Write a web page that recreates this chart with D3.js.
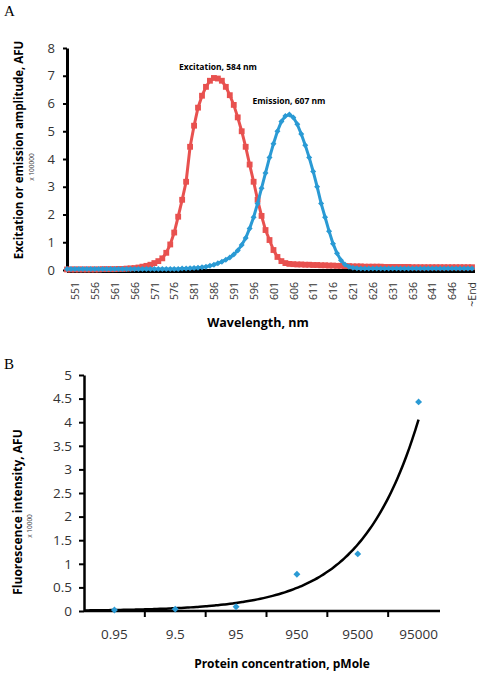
<!DOCTYPE html>
<html><head><meta charset="utf-8">
<script src="https://cdn.jsdelivr.net/npm/d3@7"></script>
<style>
body{margin:0;background:#fff}
text{font-family:"Open Sans",sans-serif}
</style>
</head><body>
<svg id="c" width="483" height="673"></svg>
<script>
// ---------- Panel A data ----------
const wavelengths = [
 "549","550","551","552","553","554","555","556","557","558","559","560","561","562","563","564","565",
 "566","567","568","569","570","571","572","573","574","575",
 "576","577","578","579","580","581","582","583","584","585",
 "586","587","588","589","590","591","592","593","594","595",
 "596","597","598","599","600","601","602","603","604","605",
 "606","607","608","609","610","611","612","613","614","615",
 "616","617","618","619","620","621","622","623","624","625",
 "626","627","628","629","630","631","632","633","634","635",
 "636","637","638","639","640","641","642","643","644","645",
 "646","647","648","649","650","~End"];
const excitation = [
 0.02,0.02,0.02,0.02,0.02,0.02,0.02,0.02,0.02,0.03,0.03,0.03,0.03,0.04,0.04,0.05,0.06,
 0.07,0.09,0.12,0.15,0.19,0.25,0.32,0.42,0.62,0.92,
 1.35,1.92,2.53,3.18,4.44,5.2,5.85,6.28,6.6,6.82,
 6.92,6.9,6.82,6.6,6.3,5.95,5.5,5.0,4.44,3.8,
 3.18,2.53,1.95,1.44,1.08,0.72,0.47,0.32,0.25,0.22,
 0.21,0.2,0.2,0.19,0.19,0.18,0.18,0.17,0.17,0.16,
 0.16,0.15,0.15,0.14,0.14,0.13,0.13,0.13,0.12,0.12,
 0.12,0.12,0.12,0.11,0.11,0.11,0.11,0.11,0.11,0.11,
 0.1,0.1,0.1,0.1,0.1,0.1,0.1,0.1,0.1,0.1,
 0.1,0.1,0.1,0.1,0.1,0.1];
const emission = [
 0.04,0.04,0.04,0.04,0.04,0.04,0.04,0.04,0.04,0.04,0.04,0.04,0.04,0.04,0.04,0.04,0.04,
 0.04,0.04,0.04,0.04,0.04,0.04,0.04,0.04,0.04,0.04,
 0.04,0.04,0.05,0.05,0.06,0.07,0.08,0.1,0.12,0.15,
 0.19,0.24,0.3,0.37,0.45,0.56,0.7,0.9,1.15,1.5,
 1.9,2.4,2.95,3.5,4.05,4.55,5.0,5.35,5.55,5.6,
 5.5,5.25,4.9,4.5,4.05,3.55,3.0,2.4,1.9,1.4,
 0.95,0.6,0.35,0.2,0.12,0.08,0.06,0.05,0.05,0.05,
 0.05,0.05,0.05,0.05,0.05,0.05,0.05,0.05,0.05,0.05,
 0.05,0.05,0.05,0.05,0.05,0.05,0.05,0.05,0.05,0.05,
 0.05,0.05,0.05,0.05,0.05,0.05];
const wavelengthTickLabels = ["551","556","561","566","571","576","581","586","591","596","601","606",
 "611","616","621","626","631","636","641","646","~End"];
const amplitudeTicks = [0,1,2,3,4,5,6,7,8];

// ---------- Panel B data ----------
const concentrations = ["0.95","9.5","95","950","9500","95000"];
const intensity = [0.02,0.04,0.09,0.78,1.21,4.43];
const intensityTicks = [0,0.5,1,1.5,2,2.5,3,3.5,4,4.5,5];
const trendA = 0.0071, trendB = 1.058;   // exponential trendline y = a*e^(b*x)

const RED = "#e8514f", BLUE = "#2a9ad4";
const svg = d3.select("#c");

// ================= Panel A =================
const A = {left:67, right:472, top:48, bottom:270};
const xA = d3.scalePoint().domain(wavelengths).range([A.left, A.right]);
const yA = d3.scaleLinear().domain([0,8]).range([A.bottom, A.top]);

svg.append("text").attr("x",4).attr("y",16).text("A")
  .style("font-family","'Liberation Serif',serif").style("font-size","15px");

// y axis
const gyA = svg.append("g").attr("transform",`translate(${A.left},0)`)
  .call(d3.axisLeft(yA).tickValues(amplitudeTicks).tickSize(4).tickSizeOuter(0).tickPadding(8));
gyA.select(".domain").attr("stroke","#000").attr("stroke-width",3);
gyA.selectAll(".tick line").attr("stroke","#000").attr("stroke-width",2);
gyA.selectAll(".tick text").style("font-size","13px").attr("fill","#333").style("font-family","'Open Sans',sans-serif");

// x axis (thick baseline)
svg.append("line").attr("x1",A.left).attr("x2",A.right+3).attr("y1",A.bottom+1).attr("y2",A.bottom+1)
  .attr("stroke","#000").attr("stroke-width",4);
const gxA = svg.append("g").attr("transform",`translate(0,${A.bottom})`)
  .call(d3.axisBottom(xA).tickValues(wavelengthTickLabels).tickSize(0).tickPadding(0));
gxA.select(".domain").remove();
gxA.selectAll(".tick text")
  .attr("transform","translate(0,12) rotate(-90)")
  .attr("text-anchor","end").attr("x",0).attr("y",0).attr("dy","0.35em")
  .style("font-size","10.5px").attr("fill","#333").style("font-family","'Open Sans',sans-serif");

// series
const dataEx = wavelengths.map((c,i)=>({c, v:excitation[i]}));
const dataEm = wavelengths.map((c,i)=>({c, v:emission[i]}));
const lineA = d3.line().x(d=>xA(d.c)).y(d=>yA(d.v));

svg.append("path").datum(dataEx).attr("d",lineA).attr("fill","none").attr("stroke",RED).attr("stroke-width",3);
svg.append("g").selectAll("path").data(dataEx).join("path")
  .attr("transform",d=>`translate(${xA(d.c)},${yA(d.v)})`)
  .attr("d",d3.symbol(d3.symbolSquare,34)()).attr("fill",RED);

svg.append("path").datum(dataEm).attr("d",lineA).attr("fill","none").attr("stroke",BLUE).attr("stroke-width",3);
svg.append("g").selectAll("path").data(dataEm).join("path")
  .attr("transform",d=>`translate(${xA(d.c)},${yA(d.v)}) rotate(45)`)
  .attr("d",d3.symbol(d3.symbolSquare,18)()).attr("fill",BLUE);

// annotations
svg.append("text").attr("x",218).attr("y",70).attr("text-anchor","middle")
  .style("font-size","8.5px").style("font-weight","bold").text("Excitation, 584 nm");
svg.append("text").attr("x",289).attr("y",104).attr("text-anchor","middle")
  .style("font-size","8.5px").style("font-weight","bold").text("Emission, 607 nm");

// titles
svg.append("text").attr("transform","translate(19,150) rotate(-90)").attr("text-anchor","middle").attr("dy","0.35em")
  .style("font-size","11.5px").style("font-weight","bold").text("Excitation or emission amplitude, AFU");
svg.append("text").attr("transform","translate(32,167) rotate(-90)").attr("text-anchor","middle").attr("dy","0.35em")
  .style("font-size","6.5px").attr("fill","#333").text("x 100000");
svg.append("text").attr("x",258).attr("y",327).attr("text-anchor","middle")
  .style("font-size","12.5px").style("font-weight","bold").text("Wavelength, nm");

// ================= Panel B =================
const B = {left:84, right:449, top:375, bottom:611};
const xB = d3.scaleBand().domain(concentrations).range([B.left, B.right]);
const xBt = d3.scaleLinear().domain([0.5, concentrations.length+0.5]).range([B.left, B.right]);
const yB = d3.scaleLinear().domain([0,5]).range([B.bottom, B.top]);

svg.append("text").attr("x",4).attr("y",369).text("B")
  .style("font-family","'Liberation Serif',serif").style("font-size","15px");

const gyB = svg.append("g").attr("transform",`translate(${B.left},0)`)
  .call(d3.axisLeft(yB).tickValues(intensityTicks).tickFormat(d3.format("")).tickSize(5).tickSizeOuter(0).tickPadding(7));
gyB.select(".domain").attr("stroke","#000").attr("stroke-width",2.5);
gyB.selectAll(".tick line").attr("stroke","#000").attr("stroke-width",2);
gyB.selectAll(".tick text").style("font-size","13.5px").attr("fill","#333").style("font-family","'Open Sans',sans-serif");

// x axis
svg.append("line").attr("x1",B.left).attr("x2",B.right-9).attr("y1",B.bottom).attr("y2",B.bottom)
  .attr("stroke","#000").attr("stroke-width",2.5);
svg.append("g").selectAll("line").data(concentrations.slice(1)).join("line")
  .attr("x1",d=>xB(d)).attr("x2",d=>xB(d)).attr("y1",B.bottom).attr("y2",B.bottom+6)
  .attr("stroke","#000").attr("stroke-width",2);
svg.append("g").selectAll("text").data(concentrations).join("text")
  .attr("x",d=>xB(d)+xB.bandwidth()/2).attr("y",B.bottom+28).attr("text-anchor","middle")
  .style("font-size","13.5px").attr("fill","#333").text(d=>d);

// trendline
const trendPts = d3.range(0.5, concentrations.length+0.001, 0.05).map(t=>[xBt(t), yB(trendA*Math.exp(trendB*t))]);
svg.append("path").datum(trendPts).attr("d",d3.line().curve(d3.curveBasis)).attr("fill","none")
  .attr("stroke","#000").attr("stroke-width",2.5);

// points
svg.append("g").selectAll("path").data(concentrations).join("path")
  .attr("transform",(d,i)=>`translate(${xB(d)+xB.bandwidth()/2},${yB(intensity[i])}) rotate(45)`)
  .attr("d",d3.symbol(d3.symbolSquare,24)()).attr("fill",BLUE);

// titles
svg.append("text").attr("transform","translate(18,512) rotate(-90)").attr("text-anchor","middle").attr("dy","0.35em")
  .style("font-size","12px").style("font-weight","bold").text("Fluorescence intensity, AFU");
svg.append("text").attr("transform","translate(30,526) rotate(-90)").attr("text-anchor","middle").attr("dy","0.35em")
  .style("font-size","6.5px").attr("fill","#333").text("x 10000");
svg.append("text").attr("x",282).attr("y",668).attr("text-anchor","middle")
  .style("font-size","12px").style("font-weight","bold").text("Protein concentration, pMole");
</script>
</body></html>
